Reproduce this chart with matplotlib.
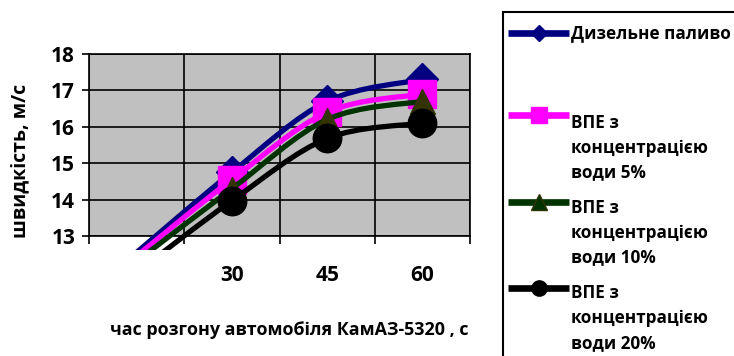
import matplotlib
matplotlib.use("Agg")
import matplotlib.pyplot as plt
from matplotlib.path import Path
from matplotlib.patches import PathPatch, Rectangle
from matplotlib.lines import Line2D

# data
categories = ["", "30", "45", "60"]
diesel = [12.55, 14.75, 16.7, 17.3]
wfe_5 = [12.45, 14.55, 16.4, 16.9]
wfe_10 = [12.3, 14.3, 16.2, 16.7]
wfe_20 = [12.0, 13.97, 15.68, 16.1]
series_labels = ["Дизельне паливо",
                 "ВПЕ з\nконцентрацією\nводи 5%",
                 "ВПЕ з\nконцентрацією\nводи 10%",
                 "ВПЕ з\nконцентрацією\nводи 20%"]
y_ticks = [13, 14, 15, 16, 17, 18]

# styles
colors = ["#000080", "#FF00FF", "#003300", "#000000"]
markers = ["D", "s", "^", "o"]
marker_face = ["#000080", "#FF00FF", "#333300", "#000000"]
marker_size = [16.5, 20.5, 18, 20.5]
legend_msize = [8.5, 11, 11, 11]

plt.rcParams['font.family'] = ['Open Sans', 'DejaVu Sans']
plt.rcParams['font.weight'] = 'bold'

W, H = 734, 356
fig = plt.figure(figsize=(W / 100, H / 100), dpi=100)
ax = fig.add_axes([89 / W, (H - 236) / H, (470 - 89) / W, (236 - 54) / H])
ax.set_facecolor("#C0C0C0")
ax.set_xlim(-0.5, len(categories) - 0.5)
ax.set_ylim(13, 18)


def smooth_path(xs, ys):
    # Excel-like smoothed line (Catmull-Rom as cubic Bezier)
    pts = list(zip(xs, ys))
    n = len(pts)
    verts = [pts[0]]
    codes = [Path.MOVETO]
    for i in range(n - 1):
        p0 = pts[max(i - 1, 0)]
        p1 = pts[i]
        p2 = pts[i + 1]
        p3 = pts[min(i + 2, n - 1)]
        c1 = (p1[0] + (p2[0] - p0[0]) / 6, p1[1] + (p2[1] - p0[1]) / 6)
        c2 = (p2[0] - (p3[0] - p1[0]) / 6, p2[1] - (p3[1] - p1[1]) / 6)
        verts += [c1, c2, p2]
        codes += [Path.CURVE4] * 3
    return Path(verts, codes)


clip = Rectangle((-0.5, 12.615), len(categories), 18 - 12.615,
                 transform=ax.transData, visible=False)
ax.add_patch(clip)

xs = list(range(len(categories)))
all_series = [diesel, wfe_5, wfe_10, wfe_20]
for k, vals in enumerate(all_series):
    patch = PathPatch(smooth_path(xs, vals), fill=False, edgecolor=colors[k],
                      lw=3.8, capstyle="butt", joinstyle="round",
                      zorder=3 + 2 * k)
    ax.add_patch(patch)
    patch.set_clip_path(clip)
    shown = [i for i, v in enumerate(vals) if v >= 13]
    ax.plot([xs[i] for i in shown], [vals[i] for i in shown], ls="none",
            marker=markers[k], ms=marker_size[k], mfc=marker_face[k],
            mec=marker_face[k], zorder=4 + 2 * k)

# grid and axes
ax.set_yticks(y_ticks)
ax.set_xticks([x - 0.5 for x in range(len(categories) + 1)])
ax.set_xticklabels([])
ax.set_xticks(xs, minor=True)
ax.set_xticklabels(categories, minor=True)
ax.grid(True, which="major", color="black", lw=1.2, zorder=1)
ax.set_axisbelow(True)
ax.tick_params(axis="x", which="major", length=6, width=1.2, direction="out")
ax.tick_params(axis="x", which="minor", length=0, pad=21, labelsize=15)
ax.tick_params(axis="y", length=5, width=1.2, direction="out", pad=5,
               labelsize=15)
for sp in ax.spines.values():
    sp.set_color("black")
    sp.set_linewidth(1.2)

fig.text(20 / W, 1 - 161 / H, "швидкість, м/с", rotation=90,
         ha="center", va="center", fontsize=14, weight="bold")
fig.text(289 / W, 1 - 330 / H, "час розгону автомобіля КамАЗ-5320 , с",
         ha="center", va="center", fontsize=12.9, weight="bold")

# legend box, drawn by hand to match the cut-off Excel legend
fig.add_artist(Rectangle((503 / W, -0.1), 1, (H - 12) / H + 0.1,
                         transform=fig.transFigure, fill=False,
                         lw=1.5, edgecolor="black"))
handle_y = [33, 115, 202, 288]
text_base = [[38], [128, 153, 177], [213, 238, 262], [298, 323, 348]]
for k, lab in enumerate(series_labels):
    y = 1 - handle_y[k] / H
    fig.add_artist(Line2D([508 / W, 538.5 / W, 569 / W], [y, y, y],
                          transform=fig.transFigure, color=colors[k], lw=4.8,
                          solid_capstyle="butt", marker=markers[k],
                          markevery=[1], ms=legend_msize[k],
                          mfc=marker_face[k] if k != 2 else colors[k],
                          mec=marker_face[k]))
    for line, yb in zip(lab.split("\n"), text_base[k]):
        fig.text(571 / W, 1 - yb / H, line, ha="left", va="baseline",
                 fontsize=12.3, weight="bold")

fig.savefig("out.png", dpi=100)
